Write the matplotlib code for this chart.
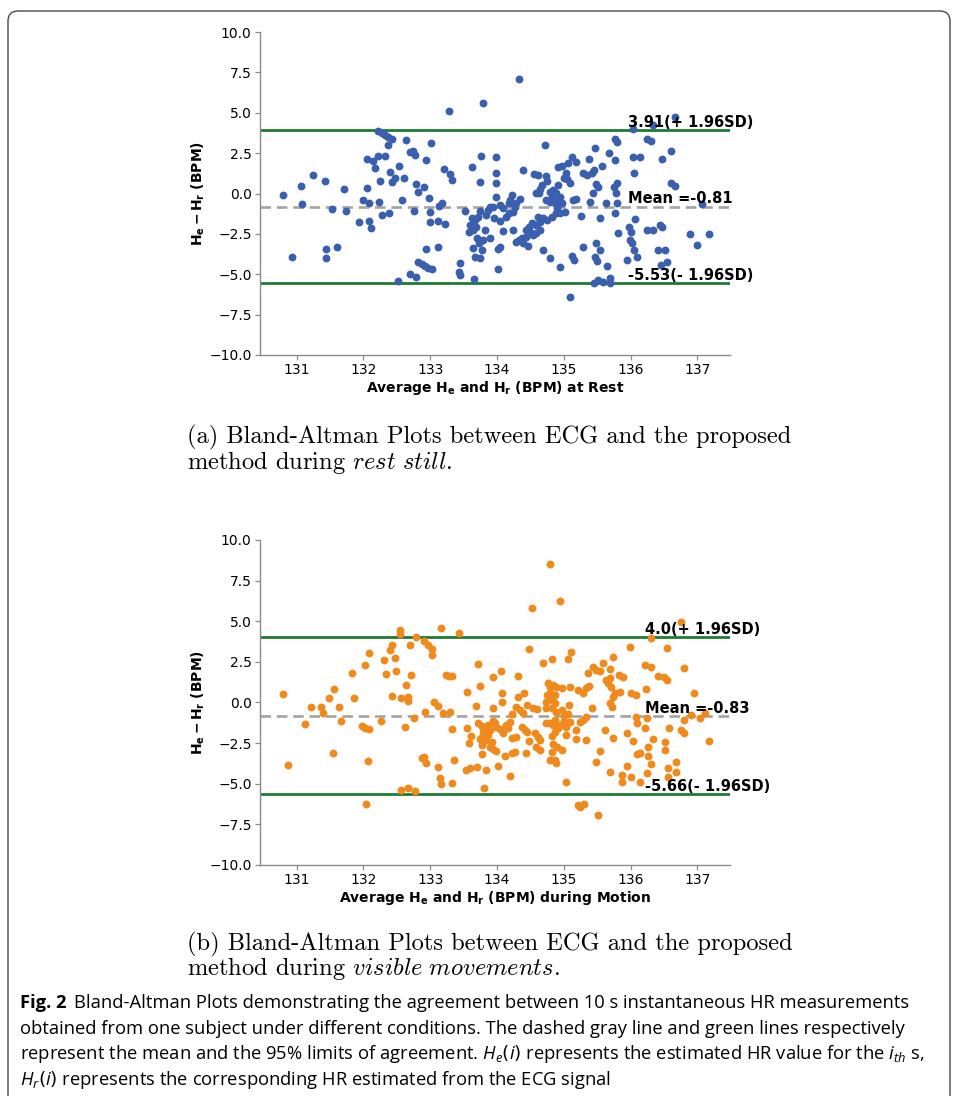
import numpy as np
import matplotlib
matplotlib.use("Agg")
import matplotlib.pyplot as plt
from matplotlib.patches import FancyBboxPatch
from matplotlib.transforms import IdentityTransform
from matplotlib.ticker import FuncFormatter

# ---------------------------------------------------------------- data
# (a) rest: average of estimated / reference HR (BPM) and their difference
rest_avg = [
    130.79, 130.93, 131.06, 131.08, 131.24, 131.43, 131.44, 131.44, 131.53, 131.61,
    131.71, 131.74, 131.93, 131.99, 132.06, 132.08, 132.08, 132.11, 132.06, 132.15,
    132.17, 132.22, 132.23, 132.25, 132.27, 132.32, 132.37, 132.38, 132.40, 132.43,
    132.47, 132.53, 132.58, 132.60, 132.64, 132.70, 132.74, 132.77, 132.75, 132.79,
    132.82, 132.22, 132.27, 132.32, 132.37, 132.43, 132.52, 132.70, 132.79, 132.82,
    133.01, 132.94, 133.21, 133.29, 133.32, 132.90, 132.98, 132.99, 133.00, 133.11,
    133.13, 133.17, 133.22, 132.94, 133.11, 132.87, 132.92, 132.97, 133.03, 133.28,
    133.44, 133.43, 133.45, 133.52, 133.58, 133.79, 134.33, 134.72, 133.66, 134.02,
    134.95, 135.09,
    133.76, 133.63, 133.98, 133.98, 133.75, 133.98, 134.39, 134.55, 134.61, 134.73,
    134.75, 134.92, 134.97, 135.06, 135.12, 135.19, 135.04, 135.00, 135.05, 135.09,
    134.92, 134.68, 134.65, 134.63, 134.58, 135.38, 135.29, 135.35, 135.42, 135.45,
    135.48, 135.52, 135.44, 135.40, 135.58, 135.68, 135.77, 135.80, 135.75, 135.78,
    136.04, 136.14, 136.05, 135.63, 135.79, 135.77, 136.07, 136.24, 135.98, 136.00,
    135.81, 135.99, 136.02, 135.94, 136.09, 136.05, 134.22, 134.20, 134.29, 134.35,
    134.18, 133.98, 134.05, 134.09, 133.89, 133.87, 133.94, 133.74, 133.72, 133.84,
    133.95, 134.05, 134.14, 134.18, 134.24, 134.27, 134.79, 134.84, 134.89, 134.83,
    134.94, 134.74, 134.79, 134.87, 134.93, 134.97, 134.90, 135.14, 135.18, 134.88,
    134.94, 135.02, 134.82, 134.75, 134.69, 134.62, 134.64, 134.59, 134.52, 134.48,
    134.44, 134.49, 134.54, 134.64, 134.59, 135.26, 135.54, 133.67, 133.62, 133.69,
    133.64, 133.82, 133.59, 134.09, 134.24, 134.43, 134.37, 134.33, 134.29, 134.39,
    134.47, 133.70, 133.79, 133.89, 133.73, 133.64, 133.77, 133.67, 133.74, 134.04,
    134.02, 134.69, 134.79, 135.12, 135.15, 135.29, 135.49, 135.54, 135.47, 135.50,
    136.66, 136.04, 136.34, 135.76, 135.80, 136.24, 136.31, 136.60, 135.47, 136.47,
    136.60, 136.67, 137.07, 136.34, 136.44, 136.47, 136.89, 137.17, 137.00, 136.41,
    136.52, 136.46, 136.55, 135.46, 135.52, 135.59, 135.69, 135.69, 135.65,
]
rest_diff = [
    -0.07, -3.91, 0.46, -0.65, 1.14, 0.75, -3.46, -3.97, -0.94, -3.29,
    0.26, -1.06, -1.77, -0.38, 0.32, -0.57, -1.72, -2.14, 2.16, 2.01,
    1.56, 2.34, -0.53, 0.77, -1.31, 2.30, 2.98, -1.19, 1.35, 0.73,
    0.94, 1.72, -0.40, 0.94, 3.33, 2.57, 2.63, 2.40, -1.08, 0.57,
    0.07, 3.87, 3.77, 3.64, 3.52, 3.39, -5.44, -5.01, -5.19, -4.26,
    3.15, 2.07, 1.50, 1.21, 0.83, 0.42, -0.30, -1.13, -1.77, -1.68,
    -0.77, -0.61, -1.89, -3.42, -3.33, -4.37, -4.49, -4.59, -4.70, 5.11,
    -4.32, -4.84, -5.05, -1.06, -2.41, 5.60, 7.11, 2.98, -5.30, -4.65,
    -4.57, -6.39,
    2.32, 1.66, 2.24, 1.25, 0.73, 0.67, 1.45, 1.21, 1.17, 1.08,
    0.79, 1.62, 1.70, 1.91, 2.28, 1.97, 1.29, 0.94, 0.88, 0.67,
    0.53, 0.53, 0.26, 0.01, 0.01, 2.12, 1.29, 1.15, 1.25, 1.45,
    0.57, 0.42, 0.01, -0.51, 1.72, 2.53, 2.07, 0.63, 0.38, 0.05,
    2.28, 2.24, 1.25, -0.57, -0.57, -1.19, -1.60, -2.26, -2.10, -2.36,
    -2.43, -2.88, -3.09, -4.12, -3.95, -3.50, -0.09, -0.40, -0.61, -0.36,
    -0.61, -0.20, -0.71, -0.92, -0.82, -1.02, -0.82, -1.08, -1.43, -1.33,
    -1.54, -1.68, -1.43, -1.23, -1.13, -0.82, 0.11, 0.22, 0.01, -0.20,
    -0.20, -0.40, -0.51, -0.61, -0.40, -0.61, -0.92, -0.40, -0.36, -1.23,
    -1.23, -1.13, -1.43, -1.64, -1.54, -1.43, -1.74, -1.95, -1.85, -2.05,
    -2.26, -2.36, -2.57, -2.26, -2.47, -1.39, -1.54, -1.64, -1.54, -2.05,
    -2.26, -2.26, -1.95, -2.32, -2.26, -2.71, -2.78, -2.88, -2.98, -3.09,
    -3.25, -2.78, -2.88, -2.78, -3.09, -3.40, -3.50, -3.91, -4.02, -3.29,
    -3.46, -3.50, -4.02, -3.87, -4.12, -3.29, -3.09, -3.50, -3.95, -4.18,
    4.72, 3.97, 4.22, 3.39, 3.21, 3.37, 3.25, 2.65, 2.80, 2.14,
    0.63, 0.46, -0.65, -2.26, -1.95, -2.06, -2.51, -2.51, -3.21, -3.50,
    -3.50, -4.41, -4.26, -5.52, -5.36, -5.46, -5.25, -5.56, -4.49,
]

# (b) visible movements
motion_avg = [
    130.80, 130.87, 131.13, 131.21, 131.37, 131.40, 131.48, 131.56, 131.63, 131.66,
    131.55, 131.83, 131.86, 132.02, 132.09, 131.98, 132.03, 132.09, 132.07, 132.04,
    132.26, 132.31, 132.33, 132.40, 132.43, 132.47, 132.49, 132.42, 132.54, 132.54,
    132.70, 132.79, 132.71, 132.64, 132.56, 132.67, 132.67, 132.76, 132.62, 132.56,
    132.66, 132.77,
    134.80, 134.94, 134.53, 133.16, 133.43, 132.90, 132.97, 133.02, 134.48, 135.11,
    133.02, 133.06, 133.11, 132.92, 132.87, 132.91, 132.93, 133.12, 133.14, 133.16,
    133.81, 133.32, 135.04,
    136.76, 136.31, 135.99, 136.55, 136.21, 136.30, 136.80, 136.41, 136.50, 136.54,
    136.23, 136.95, 136.25, 136.22, 136.57, 136.80, 136.76, 136.80, 136.90, 137.04,
    137.11, 137.17, 136.34, 136.52, 136.52, 136.26, 136.26, 136.14, 136.30, 136.25,
    136.56, 136.68, 136.56, 136.68, 136.14, 136.00, 135.87, 135.21, 135.24, 135.30,
    135.52,
    133.72, 134.06, 133.94, 134.31, 133.24, 133.28, 133.33, 133.19, 133.30, 133.32,
    133.55, 133.75, 133.69, 134.07, 134.07, 133.94, 134.22, 134.32, 134.41, 134.45,
    134.29, 134.34, 134.39, 134.54, 134.60, 134.69, 134.82, 135.07, 134.77, 134.79,
    134.84, 134.89, 134.97, 134.75, 134.79, 134.87, 134.74, 134.82, 134.87, 134.73,
    134.82, 134.88, 134.97, 135.00, 135.07, 135.08, 135.10, 135.22, 135.29, 135.34,
    135.38, 135.37, 135.44, 135.49, 135.54, 135.59, 135.69, 135.74, 135.64, 135.70,
    135.66, 135.71, 135.76, 135.74, 135.84, 135.82, 135.89, 135.69, 135.72, 135.62,
    135.74, 135.94, 136.03, 136.08, 136.09, 136.01, 136.08, 135.34, 135.29, 135.24,
    135.19, 135.18, 135.33, 135.42, 135.09, 135.04, 135.00, 134.94, 134.87, 134.84,
    134.92, 134.79, 134.74, 135.04, 134.87, 134.82, 134.82, 134.87, 134.89, 134.79,
    134.97, 135.54, 135.49, 135.70, 135.94, 135.87, 136.09, 133.72, 133.77, 133.82,
    133.79, 133.87, 133.89, 133.94, 133.97, 133.99, 134.04, 134.09, 134.14, 134.17,
    134.19, 133.87, 133.77, 133.74, 133.83, 133.92, 133.55, 133.61, 133.58, 133.78,
    133.89, 133.94, 133.99, 133.78, 133.35, 133.59, 133.54, 133.70, 133.84, 134.02,
    134.12, 134.22, 134.27, 134.20, 134.23, 134.29, 134.38, 134.42, 134.45, 134.48,
    134.57, 134.61, 134.64, 134.44, 134.59, 134.64, 134.84, 134.90,
]
motion_diff = [
    0.50, -3.84, -1.32, -0.30, -0.25, -0.62, 0.26, 0.85, -0.25, -1.14,
    -3.10, 1.84, 0.28, 2.31, 3.03, -1.44, -1.55, -1.65, -3.62, -6.22,
    -1.14, 2.60, 1.73, 3.25, 3.54, 2.72, 1.94, 0.40, 4.48, 4.20,
    3.56, 4.01, 1.67, 1.08, 0.30, 0.36, 0.11, -0.93, -1.48, -5.38,
    -5.24, -5.42,
    8.52, 6.25, 5.79, 4.58, 4.30, 3.81, 3.54, 3.27, 3.29, 3.13,
    2.92, 0.05, -0.22, -0.56, -3.43, -3.33, -3.74, -3.95, -4.67, -5.03,
    -5.26, -4.97, -4.88,
    4.93, 3.95, 3.44, 3.33, 2.31, 2.17, 2.10, 1.63, 1.59, 1.38,
    0.81, 0.61, -0.93, -1.55, -1.55, -1.08, -1.69, -1.85, -0.77, -0.97,
    -0.66, -2.35, -2.24, -2.45, -2.92, -2.72, -3.29, -3.13, -3.80, -4.32,
    -4.05, -3.64, -4.56, -4.25, -4.87, -4.60, -4.91, -6.31, -6.41, -6.26,
    -6.94,
    2.37, 1.96, 1.59, 1.63, 1.69, 1.63, 1.63, -0.67, -0.56, -1.65,
    0.63, 1.02, -0.21, 0.56, 0.05, -0.36, -0.73, 0.36, 0.56, -0.15,
    -0.26, -0.46, -0.67, -0.36, -0.42, 2.41, 2.66, 2.66, 1.22, 0.97,
    1.08, 0.93, 0.87, 0.46, 0.56, 0.46, 0.05, 0.15, -0.05, -0.36,
    -0.36, -0.56, -0.46, -0.77, -0.71, -0.15, 0.97, 0.77, 0.60, 0.87,
    1.02, 1.84, 2.17, 2.00, 1.96, 2.45, 2.04, 2.78, 1.39, 1.49,
    1.18, 0.97, 0.56, 0.36, 0.67, 1.69, 1.59, -0.01, -0.26, -1.69,
    -2.20, -1.85, -2.35, -0.87, -1.24, 0.56, 0.46, -0.87, -1.08, -1.18,
    -1.69, -2.27, -2.31, -0.36, -1.18, -1.49, -1.12, -1.38, -1.08, -1.38,
    -1.59, -1.24, -1.28, -2.00, -1.79, -2.06, -3.03, -3.54, -3.70, -3.54,
    -2.92, -2.96, -3.64, -4.26, -3.91, -4.46, -3.17, -1.24, -1.45, -1.59,
    -1.79, -1.38, -1.69, -1.12, -1.28, -1.53, -1.65, -1.90, -1.38, -1.59,
    -1.18, -2.00, -2.10, -2.27, -2.31, -2.41, -1.59, -2.06, -2.51, -2.61,
    -2.76, -2.88, -2.96, -3.17, -3.54, -4.05, -4.15, -3.95, -4.15, -3.91,
    -3.31, -3.13, -3.03, -4.52, -2.20, -2.10, -1.53, -1.69, -1.79, -2.35,
    -1.90, -2.10, -2.31, -3.13, -2.76, -2.92, -2.55, -2.72,
]

# agreement statistics printed on each panel
rest_mean, rest_upper, rest_lower = -0.81, 3.91, -5.53
motion_mean, motion_upper, motion_lower = -0.83, 4.0, -5.66

x_ticks = [131, 132, 133, 134, 135, 136, 137]
y_ticks = [-10.0, -7.5, -5.0, -2.5, 0.0, 2.5, 5.0, 7.5, 10.0]

# ---------------------------------------------------------------- style
plt.rcParams["font.family"] = "DejaVu Sans"
plt.rcParams["mathtext.fontset"] = "custom"
plt.rcParams["mathtext.rm"] = "DejaVu Sans"
plt.rcParams["mathtext.it"] = "Open Sans:italic"
plt.rcParams["mathtext.bf"] = "DejaVu Sans:bold"

W, H = 956, 1096
fig = plt.figure(figsize=(W / 100, H / 100), dpi=100)
fig.patch.set_facecolor("white")

BLUE = "#3a5fae"
ORANGE = "#f08a1c"
GREEN = "#1e7b32"
GRAY = "#a3a3a3"
SPINE = "#8c8c8c"


def rect(left, top, right, bottom):
    return [left / W, 1 - bottom / H, (right - left) / W, (bottom - top) / H]


def fx(x):
    return x / W


def fy(y):
    return 1 - y / H


def bland_altman(ax, avg, diff, color, mean, upper, lower, xlabel, label_x):
    ax.scatter(avg, diff, s=32, color=color, linewidths=0, zorder=3)
    ax.axhline(upper, color=GREEN, lw=2.0, zorder=2)
    ax.axhline(lower, color=GREEN, lw=2.0, zorder=2)
    ax.axhline(mean, color=GRAY, lw=1.9, ls=(0, (4, 2.2)), zorder=2)
    kw = dict(fontsize=10.5, fontweight="bold", va="baseline", ha="left", zorder=4)
    ax.text(label_x, upper + 0.2, f"{upper}(+ 1.96SD)", **kw)
    ax.text(label_x, mean + 0.2, f"Mean ={mean}", **kw)
    ax.text(label_x, lower + 0.2, f"{lower}(- 1.96SD)", **kw)

    ax.set_xlim(130.45, 137.49)
    ax.set_ylim(-10, 10)
    ax.set_xticks(x_ticks)
    ax.set_yticks(y_ticks)
    ax.yaxis.set_major_formatter(
        FuncFormatter(lambda v, p: f"{v:.1f}".replace("-", "\u2212")))
    for side in ("top", "right"):
        ax.spines[side].set_visible(False)
    for side in ("left", "bottom"):
        ax.spines[side].set_color(SPINE)
        ax.spines[side].set_linewidth(1.0)
    ax.tick_params(colors=SPINE, labelcolor="black", labelsize=10,
                   length=3.5, width=0.9, pad=2.5)
    ax.set_xlabel(xlabel, fontsize=10, fontweight="bold", labelpad=1)
    ax.set_ylabel(r"$\mathbf{H_e - H_r}$ (BPM)", fontsize=10,
                  fontweight="bold", labelpad=2)


ax1 = fig.add_axes(rect(260, 32, 730, 355))
bland_altman(ax1, rest_avg, rest_diff, BLUE, rest_mean, rest_upper, rest_lower,
             r"Average $\mathbf{H_e}$ and $\mathbf{H_r}$ (BPM) at Rest", 135.96)

ax2 = fig.add_axes(rect(260, 540, 730, 865))
bland_altman(ax2, motion_avg, motion_diff, ORANGE, motion_mean, motion_upper,
             motion_lower,
             r"Average $\mathbf{H_e}$ and $\mathbf{H_r}$ (BPM) during Motion", 136.21)

renderer = fig.canvas.get_renderer()


def fitted_size(s, target_px, base=12, **kw):
    t = fig.text(0, 0, s, fontsize=base, **kw)
    w = t.get_window_extent(renderer).width
    t.remove()
    return base * target_px / w


# ---------------------------------------------------------------- sub-captions
serif = dict(family="cmr10", math_fontfamily="cm")
cap_a1 = "(a) Bland-Altman Plots between ECG and the proposed"
cap_size = fitted_size(cap_a1, 603, **serif)
for y, s in [(437, cap_a1),
             (462, r"method during $\mathit{rest\ still}$."),
             (944, "(b) Bland-Altman Plots between ECG and the proposed"),
             (969, r"method during $\mathit{visible\ movements}$.")]:
    fig.text(fx(187), fy(y), s, fontsize=cap_size, va="center", ha="left", **serif)

# ---------------------------------------------------------------- figure caption
sans = dict(family=["Liberation Sans Narrow", "Open Sans"], math_fontfamily="custom")
lines = [
    "obtained from one subject under different conditions. The dashed gray line and green lines respectively",
    r"represent the mean and the 95% limits of agreement. $H_e(i)$ represents the estimated HR value for the $i_{th}$ s,",
    r"$H_r(i)$ represents the corresponding HR estimated from the ECG signal",
]
fs = fitted_size(lines[0], 883, **sans)
head = fig.text(fx(20), fy(1003), "Fig. 2", fontsize=fs, fontweight="bold",
                va="center", ha="left", **sans)
hw = head.get_window_extent(renderer).width
fig.text(fx(20 + hw + 8), fy(1003),
         "Bland-Altman Plots demonstrating the agreement between 10 s instantaneous HR measurements",
         fontsize=fs, va="center", ha="left", **sans)
for y, s in zip([1029, 1054, 1080], lines):
    fig.text(fx(20), fy(y), s, fontsize=fs, va="center", ha="left", **sans)

# ---------------------------------------------------------------- frame
frame = FancyBboxPatch((8, -40), 942, H - 11 + 40,
                       boxstyle="round,pad=0,rounding_size=10",
                       transform=IdentityTransform(), facecolor="none",
                       edgecolor="#4a4a4a", linewidth=1.0)
fig.add_artist(frame)

fig.savefig("out.png", dpi=100, facecolor="white")
